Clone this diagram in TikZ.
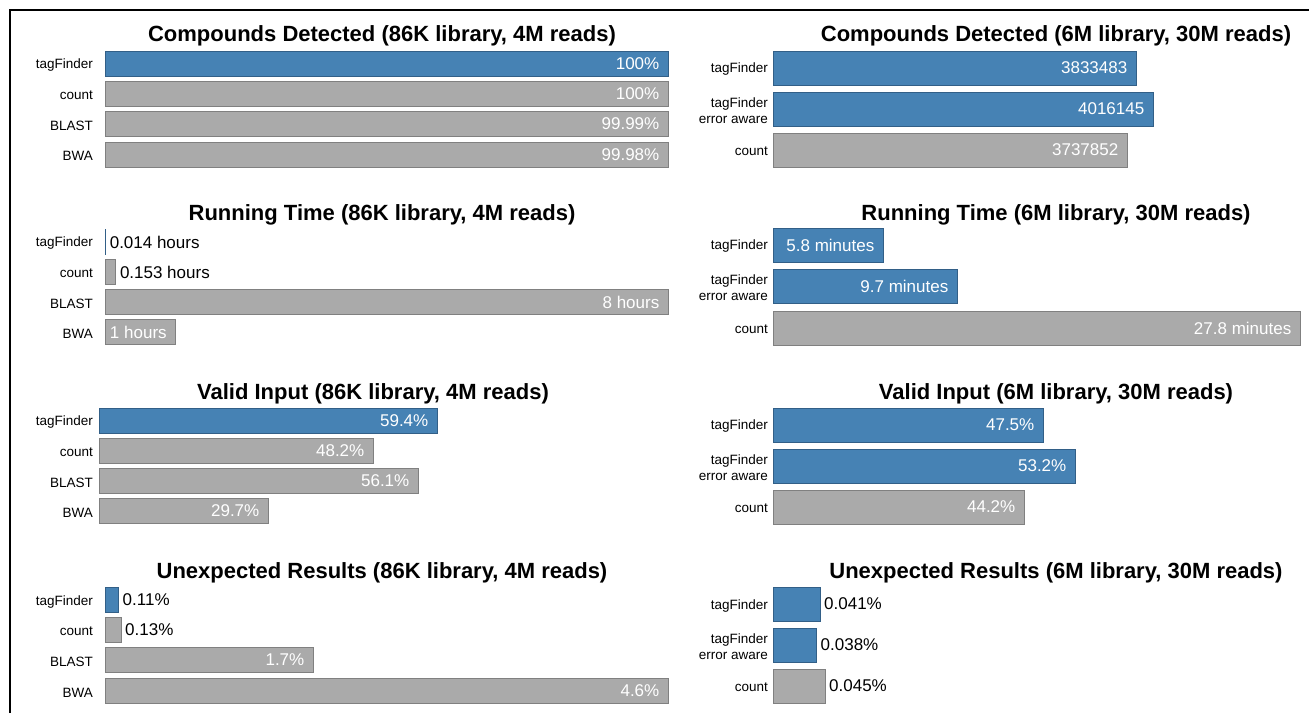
\documentclass[tikz,border=0pt]{standalone}
\usepackage{fontspec}
\setmainfont{Liberation Sans}
\definecolor{bblue}{RGB}{70,130,180}
\definecolor{bblueline}{RGB}{50,95,135}
\definecolor{bgray}{RGB}{170,170,170}
\definecolor{bgrayline}{RGB}{128,128,128}
\tikzset{
 bluebar/.style={fill=bblue, draw=bblueline, line width=0.8pt},
 graybar/.style={fill=bgray, draw=bgrayline, line width=0.8pt},
 charttitle/.style={font=\fontsize{22}{26}\selectfont\bfseries, inner sep=0, yshift=-2.5pt},
 cat/.style={font=\fontsize{13.5}{16}\selectfont, align=right, anchor=east, inner sep=0, yshift=-1.5pt},
 valin/.style={font=\fontsize{17}{20}\selectfont, text=white, anchor=east, inner sep=0},
 valout/.style={font=\fontsize{17}{20}\selectfont, text=black, anchor=west, inner sep=0},
}
% #1 name, #2 style, #3 x0, #4 y centre, #5 length, #6 height, #7 text
\newcommand\barin[7]{%
 \draw[#2] (#3,{#4-#6/2}) rectangle ++(#5,#6);
 \node[valin] (#1) at ({#3+#5-8.5},#4) {#7};}
\newcommand\barout[7]{%
 \draw[#2] (#3,{#4-#6/2}) rectangle ++(#5,#6);
 \node[valout] (#1) at ({#3+#5+4},#4) {#7};}
\begin{document}
\begin{tikzpicture}[x=1pt,y=-1pt]
\useasboundingbox (0,0) rectangle (1309,713);
\fill[white] (0,0) rectangle (1309,713);
\draw[line width=1.5pt] (10,713) -- (10,10) -- (1309,10);

% ---------- Left column ----------
% Panel 1
\node[charttitle] (t1) at (382,33) {Compounds Detected (86K library, 4M reads)};
\node[cat] (c1a) at (93,63.5) {tagFinder};
\node[cat] (c1b) at (93,93.5) {count};
\node[cat] (c1c) at (93,124) {BLAST};
\node[cat] (c1d) at (93,154.5) {BWA};
\barin{v1a}{bluebar}{105}{63.5}{563}{25}{100\%}
\barin{v1b}{graybar}{105}{93.5}{563}{25}{100\%}
\barin{v1c}{graybar}{105}{124}{563}{25}{99.99\%}
\barin{v1d}{graybar}{105}{154.5}{563}{25}{99.98\%}

% Panel 2
\node[charttitle] (t2) at (382,212) {Running Time (86K library, 4M reads)};
\node[cat] (c2a) at (93,242) {tagFinder};
\node[cat] (c2b) at (93,272) {count};
\node[cat] (c2c) at (93,302) {BLAST};
\node[cat] (c2d) at (93,332) {BWA};
\barout{v2a}{bluebar}{105}{242}{0.6}{25}{0.014 hours}
\barout{v2b}{graybar}{105}{272}{10.8}{25}{0.153 hours}
\barin{v2c}{graybar}{105}{302}{563}{25}{8 hours}
\barin{v2d}{graybar}{105}{332}{70.4}{25}{1 hours}

% Panel 3
\node[charttitle] (t3) at (373,391) {Valid Input (86K library, 4M reads)};
\node[cat] (c3a) at (93,420.5) {tagFinder};
\node[cat] (c3b) at (93,450.5) {count};
\node[cat] (c3c) at (93,481) {BLAST};
\node[cat] (c3d) at (93,511) {BWA};
\barin{v3a}{bluebar}{99}{420.5}{338}{25}{59.4\%}
\barin{v3b}{graybar}{99}{450.5}{274}{25}{48.2\%}
\barin{v3c}{graybar}{99}{481}{319}{25}{56.1\%}
\barin{v3d}{graybar}{99}{511}{169}{25}{29.7\%}

% Panel 4
\node[charttitle] (t4) at (382,570) {Unexpected Results (86K library, 4M reads)};
\node[cat] (c4a) at (93,600) {tagFinder};
\node[cat] (c4b) at (93,630) {count};
\node[cat] (c4c) at (93,660) {BLAST};
\node[cat] (c4d) at (93,691) {BWA};
\barout{v4a}{bluebar}{105}{600}{13.5}{25}{0.11\%}
\barout{v4b}{graybar}{105}{630}{16}{25}{0.13\%}
\barin{v4c}{graybar}{105}{660}{208}{25}{1.7\%}
\barin{v4d}{graybar}{105}{691}{563}{25}{4.6\%}

% ---------- Right column ----------
% Panel 5
\node[charttitle] (t5) at (1056,33) {Compounds Detected (6M library, 30M reads)};
\node[cat] (c5a) at (768,68) {tagFinder};
\node[cat] (c5b) at (768,109) {tagFinder\\error aware};
\node[cat] (c5c) at (768,150) {count};
\barin{v5a}{bluebar}{773}{68}{363}{34}{3833483}
\barin{v5b}{bluebar}{773}{109}{380}{34}{4016145}
\barin{v5c}{graybar}{773}{150}{354}{34}{3737852}

% Panel 6
\node[charttitle] (t6) at (1056,212) {Running Time (6M library, 30M reads)};
\node[cat] (c6a) at (768,245) {tagFinder};
\node[cat] (c6b) at (768,286) {tagFinder\\error aware};
\node[cat] (c6c) at (768,328) {count};
\barin{v6a}{bluebar}{773}{245}{110}{34}{5.8 minutes}
\barin{v6b}{bluebar}{773}{286}{184}{34}{9.7 minutes}
\barin{v6c}{graybar}{773}{328}{527}{34}{27.8 minutes}

% Panel 7
\node[charttitle] (t7) at (1056,391) {Valid Input (6M library, 30M reads)};
\node[cat] (c7a) at (768,425) {tagFinder};
\node[cat] (c7b) at (768,466) {tagFinder\\error aware};
\node[cat] (c7c) at (768,507) {count};
\barin{v7a}{bluebar}{773}{425}{270}{34}{47.5\%}
\barin{v7b}{bluebar}{773}{466}{302}{34}{53.2\%}
\barin{v7c}{graybar}{773}{507}{251}{34}{44.2\%}

% Panel 8
\node[charttitle] (t8) at (1056,570) {Unexpected Results (6M library, 30M reads)};
\node[cat] (c8a) at (768,604) {tagFinder};
\node[cat] (c8b) at (768,645) {tagFinder\\error aware};
\node[cat] (c8c) at (768,686) {count};
\barout{v8a}{bluebar}{773}{604}{47}{34}{0.041\%}
\barout{v8b}{bluebar}{773}{645}{43.5}{34}{0.038\%}
\barout{v8c}{graybar}{773}{686}{52}{34}{0.045\%}
\end{tikzpicture}
\end{document}
